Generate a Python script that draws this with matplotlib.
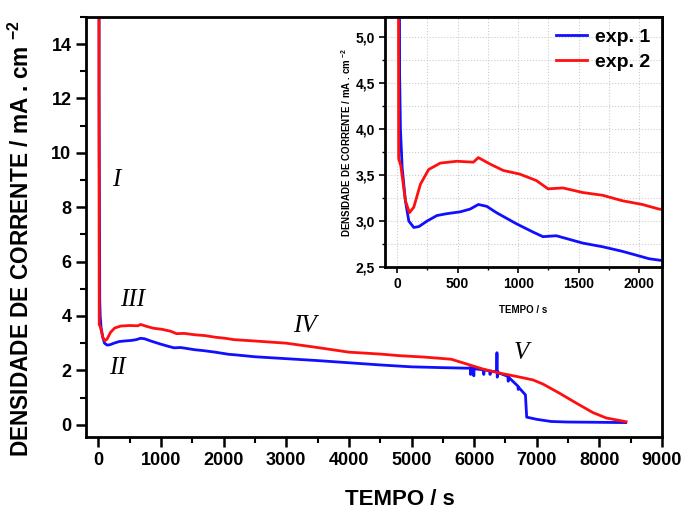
import matplotlib.pyplot as plt
from matplotlib.ticker import MultipleLocator, FuncFormatter

plt.rcParams['font.family'] = ['Liberation Sans', 'DejaVu Sans']
plt.rcParams['font.weight'] = 'bold'
plt.rcParams['mathtext.fontset'] = 'custom'
plt.rcParams['mathtext.bf'] = 'Liberation Sans:bold'
plt.rcParams['mathtext.rm'] = 'Liberation Sans:bold'
plt.rcParams['mathtext.default'] = 'bf'

# exp. 1 (blue) - time in s, current density in mA/cm2
t_exp1 = [5, 10, 20, 27, 41, 68, 96, 137, 180, 247, 329, 411, 521, 603, 671, 740, 822,
          986, 1123, 1205, 1315, 1425, 1534, 1699, 1863, 1973, 2082, 2192, 2500, 3000,
          3500, 4000, 4500, 5000, 5500, 5900, 5940, 5945, 5950, 5990, 5995, 6000, 6150,
          6155, 6160, 6250, 6255, 6260, 6360, 6365, 6370, 6375, 6400, 6540, 6545, 6550,
          6700, 6705, 6710, 6820, 6840, 7000, 7230, 7500, 8000, 8420]
j_exp1 = [40, 12, 4.6, 4.0, 3.58, 3.22, 3.0, 2.93, 2.94, 3.0, 3.06, 3.08, 3.1, 3.13, 3.18,
          3.16, 3.09, 2.97, 2.88, 2.83, 2.84, 2.8, 2.76, 2.72, 2.67, 2.63, 2.59, 2.57,
          2.5, 2.43, 2.36, 2.28, 2.2, 2.13, 2.1, 2.08, 2.1, 1.85, 2.08, 2.08, 1.8, 2.06,
          2.02, 1.85, 2.02, 1.98, 1.85, 1.97, 1.95, 2.65, 1.75, 1.95, 1.9, 1.78, 1.6, 1.75,
          1.42, 1.3, 1.38, 1.1, 0.28, 0.2, 0.12, 0.1, 0.09, 0.08]

# exp. 2 (red)
t_exp2 = [3, 8, 12, 30, 68, 101, 137, 192, 260, 356, 493, 630, 671, 767, 877, 1014, 1151,
          1247, 1370, 1534, 1699, 1863, 2027, 2164, 2500, 3000, 3500, 4000, 4500, 4808,
          5200, 5634, 5874, 6139, 6406, 6672, 6938, 7098, 7364, 7630, 7896, 8110, 8429]
j_exp2 = [40, 10.3, 3.68, 3.6, 3.22, 3.09, 3.15, 3.4, 3.56, 3.63, 3.65, 3.64, 3.69, 3.62,
          3.55, 3.51, 3.44, 3.35, 3.36, 3.31, 3.28, 3.22, 3.18, 3.13, 3.08, 3.0, 2.84,
          2.67, 2.6, 2.54, 2.49, 2.41, 2.24, 2.05, 1.9, 1.78, 1.65, 1.5, 1.16, 0.8, 0.45,
          0.25, 0.11]

fig = plt.figure(figsize=(6.84, 5.12), dpi=100)
ax = fig.add_axes([0.1257, 0.1465, 0.842, 0.8205])

ax.plot(t_exp1, j_exp1, color='#1010ff', lw=2)
ax.plot(t_exp2, j_exp2, color='#ff1010', lw=2)

ax.set_xlim(-200, 9000)
ax.set_ylim(-0.45, 15)
ax.xaxis.set_major_locator(MultipleLocator(1000))
ax.xaxis.set_minor_locator(MultipleLocator(500))
ax.yaxis.set_major_locator(MultipleLocator(2))
ax.yaxis.set_minor_locator(MultipleLocator(1))
ax.tick_params(which='major', length=7, width=1.8, labelsize=13)
ax.tick_params(which='minor', length=4, width=1.5)
for s in ax.spines.values():
    s.set_linewidth(2)

ax.set_ylabel('DENSIDADE DE CORRENTE / mA . cm $^{-2}$', fontsize=16.3, fontweight='bold')
ax.yaxis.set_label_coords(-0.09, 0.473)
fig.text(0.585, 0.024, 'TEMPO / s', fontsize=16, fontweight='bold', ha='center', va='center')

# region labels
roman = ['I', 'II', 'III', 'IV', 'V']
roman_xy = [(290, 9.0), (300, 2.1), (550, 4.6), (3300, 3.65), (6750, 2.65)]
for lab, (x, y) in zip(roman, roman_xy):
    ax.text(x, y, lab, fontsize=18, fontstyle='italic', fontweight='normal',
            family='Liberation Serif', ha='center', va='center')

# inset
ins = fig.add_axes([0.563, 0.4785, 0.405, 0.4885])
ins.grid(True, which='both', color='#cccccc', linestyle=':', lw=0.8)
ins.plot(t_exp1, j_exp1, color='#1010ff', lw=2, label='exp. 1')
ins.plot(t_exp2, j_exp2, color='#ff1010', lw=2, label='exp. 2')
ins.set_xlim(-100, 2190)
ins.set_ylim(2.5, 5.22)
ins.xaxis.set_major_locator(MultipleLocator(500))
ins.xaxis.set_minor_locator(MultipleLocator(250))
ins.yaxis.set_major_locator(MultipleLocator(0.5))
ins.yaxis.set_minor_locator(MultipleLocator(0.25))
ins.yaxis.set_major_formatter(FuncFormatter(lambda v, p: f'{v:.1f}'.replace('.', ',')))
ins.tick_params(which='major', length=4, width=1.2, labelsize=10)
ins.tick_params(which='minor', length=2.5, width=1)
for s in ins.spines.values():
    s.set_linewidth(2)
ins.set_xlabel('TEMPO / s', fontsize=7, fontweight='bold', labelpad=10)
ins.set_ylabel('DENSIDADE DE CORRENTE / mA . cm $^{-2}$', fontsize=7, fontweight='bold', labelpad=2)
ins.legend(loc='upper right', frameon=False, fontsize=14, handlelength=1.6,
           handletextpad=0.4, borderaxespad=0.2, labelspacing=0.35)

fig.savefig('out.png', dpi=100)
